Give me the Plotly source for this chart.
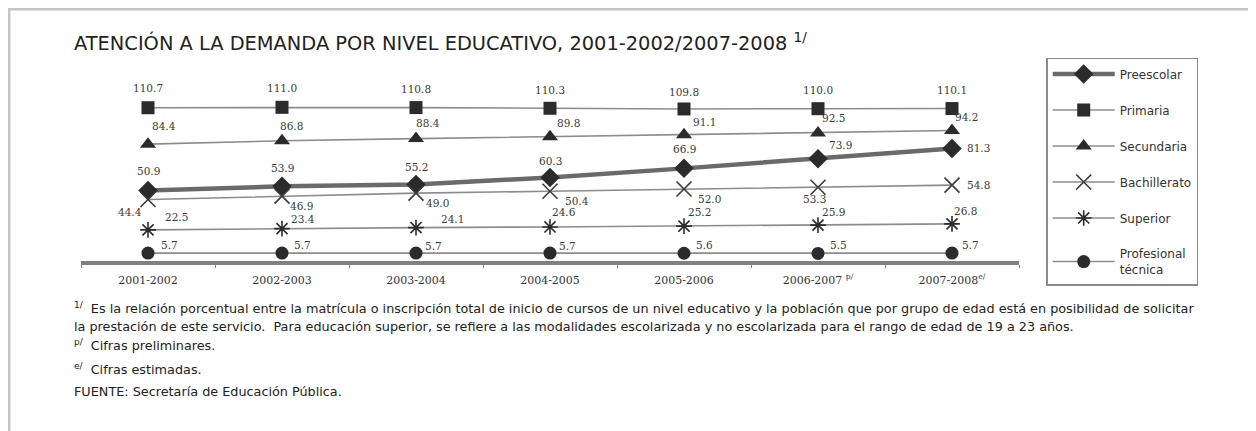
import plotly.graph_objects as go

# ── Data ──────────────────────────────────────────────────────────────────────
periods = ["2001-2002", "2002-2003", "2003-2004", "2004-2005",
           "2005-2006", "2006-2007", "2007-2008"]
tick_labels = ["2001-2002", "2002-2003", "2003-2004", "2004-2005",
               "2005-2006", "2006-2007 <sup>p/</sup>", "2007-2008<sup>e/</sup>"]

preescolar = [50.9, 53.9, 55.2, 60.3, 66.9, 73.9, 81.3]
primaria = [110.7, 111.0, 110.8, 110.3, 109.8, 110.0, 110.1]
secundaria = [84.4, 86.8, 88.4, 89.8, 91.1, 92.5, 94.2]
bachillerato = [44.4, 46.9, 49.0, 50.4, 52.0, 53.3, 54.8]
superior = [22.5, 23.4, 24.1, 24.6, 25.2, 25.9, 26.8]
prof_tecnica = [5.7, 5.7, 5.7, 5.7, 5.6, 5.5, 5.7]

# ── Style ─────────────────────────────────────────────────────────────────────
LABEL_FONT = dict(family="DejaVu Serif", size=10.5, color="#3a3a3a")
THIN = dict(color="#8c8c8c", width=1.6)
DARK = "#2b2b2b"

# label offsets in pixels (dx, dy) relative to each marker
series = [
    dict(name="Preescolar", y=preescolar,
         line=dict(color="#6a6a6a", width=4.5),
         marker=dict(symbol="diamond", size=15, color=DARK),
         dx=[0, 0, 0, 0, 0, 22, 26], dy=[-20, -18, -18, -17, -19, -14, 0]),
    dict(name="Primaria", y=primaria, line=THIN,
         marker=dict(symbol="square", size=13, color=DARK),
         dx=[0] * 7, dy=[-20, -19, -19, -18, -17, -19, -19]),
    dict(name="Secundaria", y=secundaria, line=THIN,
         marker=dict(symbol="triangle-up", size=14, color=DARK),
         dx=[16, 9, 12, 18, 20, 15, 14], dy=[-18, -15, -16, -14, -13, -15, -14]),
    dict(name="Bachillerato", y=bachillerato, line=THIN,
         marker=dict(symbol="x-thin", size=15, color=DARK,
                     line=dict(color="#3a3a3a", width=1.6)),
         dx=[-18, 19, 21, 27, 25, -4, 26], dy=[12, 10, 10, 10, 10, 12, 0]),
    dict(name="Superior", y=superior, line=THIN,
         marker=dict(symbol="asterisk", size=13, color=DARK,
                     line=dict(color="#2b2b2b", width=1.6)),
         dx=[28, 21, 36, 14, 15, 15, 13], dy=[-13, -10, -9, -15, -14, -13, -13]),
    dict(name="Profesional<br>técnica", y=prof_tecnica, line=THIN,
         marker=dict(symbol="circle", size=13, color=DARK),
         dx=[21, 20, 17, 17, 20, 20, 18], dy=[-8, -8, -7, -7, -8, -8, -8]),
]

fig = go.Figure()
for i, s in enumerate(series):
    fig.add_trace(go.Scatter(
        x=periods, y=s["y"], name=s["name"],
        mode="lines+markers",
        line=s["line"], marker=s["marker"],
        legendgroup=str(i), cliponaxis=False,
    ))
    for xv, yv, dx, dy in zip(periods, s["y"], s["dx"], s["dy"]):
        fig.add_annotation(x=xv, y=yv, text=f"{yv:.1f}", showarrow=False,
                           xshift=dx, yshift=-dy, font=LABEL_FONT)

# ── Layout ────────────────────────────────────────────────────────────────────
# page body has an 8px margin, so the figure is drawn 8px up/left of the reference
fig.update_layout(
    width=1256, height=431,
    paper_bgcolor="white", plot_bgcolor="white",
    margin=dict(l=73, r=245, t=73, b=178),
    font=dict(family="DejaVu Sans, sans-serif", color="#222"),
    showlegend=True,
    legend=dict(
        x=1.029, y=1.128, xanchor="left", yanchor="top",
        bordercolor="#8a8a8a", borderwidth=1.5,
        font=dict(family="DejaVu Sans", size=12, color="#333"),
        tracegroupgap=17, itemwidth=62, maxheight=400,
    ),
    xaxis=dict(
        range=[-0.5, 6.5], tickvals=periods, ticktext=tick_labels,
        showline=True, linecolor="#808080", linewidth=3.5,
        ticks="outside", tickson="boundaries", ticklen=3, tickcolor="#808080",
        ticklabelstandoff=6,
        tickfont=dict(family="DejaVu Serif", size=11, color="#333"),
        showgrid=False, zeroline=False,
    ),
    yaxis=dict(range=[0, 130], visible=False, showgrid=False, zeroline=False),
)

# outer frame
fig.add_shape(type="rect", xref="paper", yref="paper",
              x0=-0.0768, x1=1.2463, y0=-1.0, y1=1.4,
              line=dict(color="#c4c4c4", width=3), layer="below")


def note(text, x_px, y_px, size=12.8, family="DejaVu Sans"):
    # x_px, y_px are reference-image pixels
    fig.add_annotation(text=text, xref="paper", yref="paper",
                       x=(x_px - 81) / 938, y=(261 - y_px) / 180,
                       xanchor="left", yanchor="middle", showarrow=False,
                       font=dict(family=family, size=size, color="#222"))


note("ATENCIÓN A LA DEMANDA POR NIVEL EDUCATIVO, 2001-2002/2007-2008 <sup>1/</sup>",
     72, 42, size=19.4)
note("<sup>1/</sup>  Es la relación porcentual entre la matrícula o inscripción total de inicio "
     "de cursos de un nivel educativo y la población que por grupo de edad está en "
     "posibilidad de solicitar", 72, 308)
note("la prestación de este servicio.  Para educación superior, se refiere a las "
     "modalidades escolarizada y no escolarizada para el rango de edad de 19 a 23 años.",
     72, 326)
note("<sup>p/</sup>  Cifras preliminares.", 72, 345)
note("<sup>e/</sup>  Cifras estimadas.", 72, 369)
note("FUENTE: Secretaría de Educación Pública.", 72, 391)

fig.write_html("out.html")
